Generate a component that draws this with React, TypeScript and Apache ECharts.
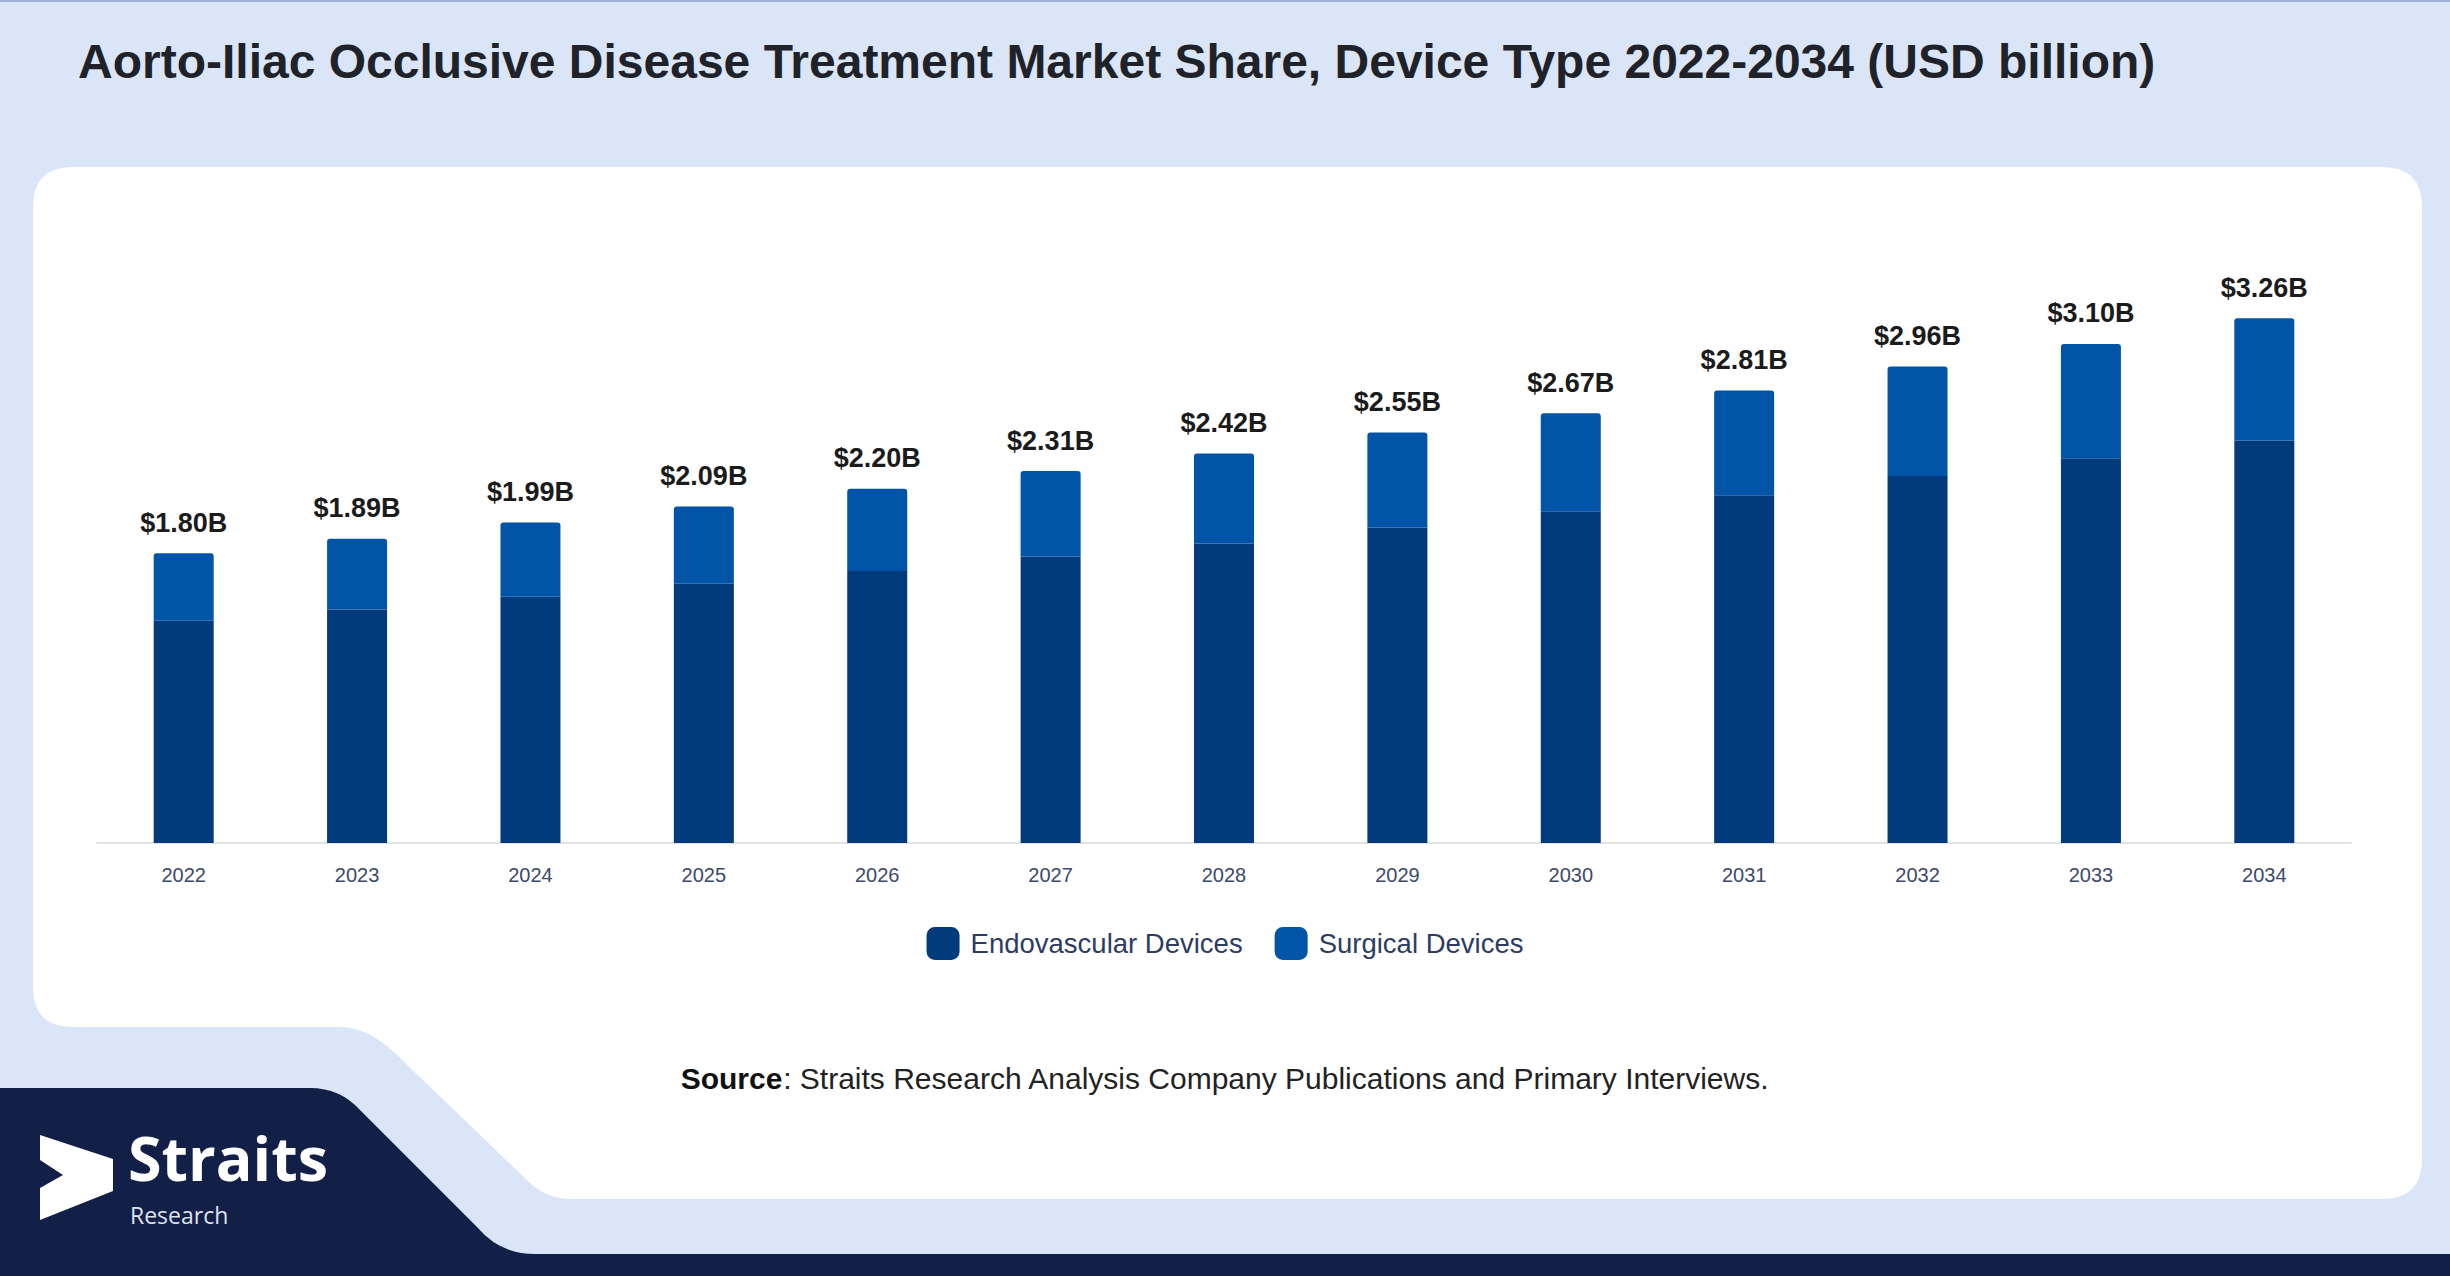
import React, { useEffect, useRef } from "react";
import * as echarts from "echarts";

const years = ["2022", "2023", "2024", "2025", "2026", "2027", "2028", "2029", "2030", "2031", "2032", "2033", "2034"];
const endovascular = [1.38, 1.45, 1.53, 1.61, 1.69, 1.78, 1.86, 1.96, 2.06, 2.16, 2.28, 2.39, 2.5];
const surgical = [0.42, 0.44, 0.46, 0.48, 0.51, 0.53, 0.56, 0.59, 0.61, 0.65, 0.68, 0.71, 0.76];
const totalLabels = ["$1.80B", "$1.89B", "$1.99B", "$2.09B", "$2.20B", "$2.31B", "$2.42B", "$2.55B", "$2.67B", "$2.81B", "$2.96B", "$3.10B", "$3.26B"];
const seriesNames = ["Endovascular Devices", "Surgical Devices"];
const titleText = "Aorto-Iliac Occlusive Disease Treatment Market Share, Device Type 2022-2034 (USD billion)";

const FONT = "'Liberation Sans', Arial, sans-serif";

const panelPath =
  "M 73 167 L 2382 167 Q 2422 167 2422 207 L 2422 1159 Q 2422 1199 2382 1199 L 572 1199 Q 545 1199 527 1180 L 400 1058 Q 370 1027 340 1027 L 73 1027 Q 33 1027 33 987 L 33 207 Q 33 167 73 167 Z";
const navyPath =
  "M 0 1088 L 310 1088 Q 340 1088 360 1110 L 478 1228 Q 500 1254 535 1254 L 2450 1254 L 2450 1276 L 0 1276 Z";

let registered = false;
function registerShapes() {
  if (registered) return;
  echarts.graphic.registerShape("panelShape", echarts.graphic.extendPath(panelPath, {}));
  echarts.graphic.registerShape("navyShape", echarts.graphic.extendPath(navyPath, {}));
  registered = true;
}

export default function App() {
  const ref = useRef<HTMLDivElement>(null);
  useEffect(() => {
    if (!ref.current) return;
    registerShapes();
    const chart = echarts.init(ref.current, undefined, { renderer: "svg" });
    const option: any = {
      animation: false,
      backgroundColor: "#dae6f7",
      graphic: [
        { type: "rect", z: -5, shape: { x: 0, y: 0, width: 2450, height: 2 }, style: { fill: "#9fb1d2" } },
        { type: "panelShape", z: -4, x: 0, y: 0, style: { fill: "#ffffff" } },
        { type: "navyShape", z: -3, x: 0, y: 0, style: { fill: "#121f47" } },
        {
          type: "polygon",
          z: -2,
          shape: {
            points: [
              [40, 1135],
              [113, 1159],
              [113, 1191],
              [40, 1220],
              [40, 1188],
              [63, 1175],
              [40, 1160],
            ],
          },
          style: { fill: "#ffffff" },
        },
        {
          type: "text",
          z: -2,
          x: 128,
          y: 1157,
          style: {
            text: "Straits",
            fill: "#ffffff",
            font: "bold 61px 'Open Sans', sans-serif",
            verticalAlign: "middle",
          },
        },
        {
          type: "text",
          z: -2,
          x: 130,
          y: 1215,
          style: {
            text: "Research",
            fill: "#dfe3ee",
            font: "23px 'Open Sans', sans-serif",
            verticalAlign: "middle",
          },
        },
        {
          type: "text",
          z: 5,
          x: 78,
          y: 61,
          style: {
            text: titleText,
            fill: "#1f2329",
            font: "bold 48px " + FONT,
            verticalAlign: "middle",
          },
        },
        {
          type: "text",
          z: 5,
          x: 1225,
          y: 1078,
          style: {
            text: "{b|Source}: Straits Research Analysis Company Publications and Primary Interviews.",
            fill: "#222222",
            fontSize: 30,
            fontFamily: FONT,
            align: "center",
            verticalAlign: "middle",
            rich: {
              b: { fontWeight: "bold", fontSize: 30, fontFamily: FONT, fill: "#111111" },
            },
          },
        },
      ],
      legend: {
        top: 927,
        left: "center",
        padding: 0,
        icon: "roundRect",
        itemWidth: 33,
        itemHeight: 33,
        itemGap: 32,
        textStyle: { fontSize: 27.5, color: "#2d3c63", fontFamily: FONT, padding: [0, 0, 0, 6] },
        data: seriesNames,
      },
      grid: { left: 97, right: 99, top: 279.5, bottom: 433, containLabel: false },
      xAxis: {
        type: "category",
        data: years,
        axisLine: { show: true, lineStyle: { color: "#e3e3e3", width: 2 } },
        axisTick: { show: false },
        axisLabel: { margin: 22, fontSize: 20, color: "#3b4a6b", fontFamily: FONT },
      },
      yAxis: {
        type: "value",
        min: 0,
        max: 3.5,
        show: false,
        splitLine: { show: false },
      },
      series: [
        {
          name: seriesNames[0],
          type: "bar",
          stack: "total",
          barWidth: 60,
          data: endovascular,
          itemStyle: { color: "#023b7b" },
        },
        {
          name: seriesNames[1],
          type: "bar",
          stack: "total",
          barWidth: 60,
          data: surgical,
          itemStyle: { color: "#0254a7", borderRadius: [3, 3, 0, 0] },
          label: {
            show: true,
            position: "top",
            distance: 17,
            fontSize: 27,
            fontWeight: "bold",
            color: "#1b1b1b",
            fontFamily: FONT,
            formatter: (p: any) => totalLabels[p.dataIndex],
          },
        },
      ],
    };
    chart.setOption(option);
    return () => chart.dispose();
  }, []);
  return (
    <div
      ref={ref}
      style={{ position: "fixed", left: 0, top: 0, width: 2450, height: 1276 }}
    />
  );
}
